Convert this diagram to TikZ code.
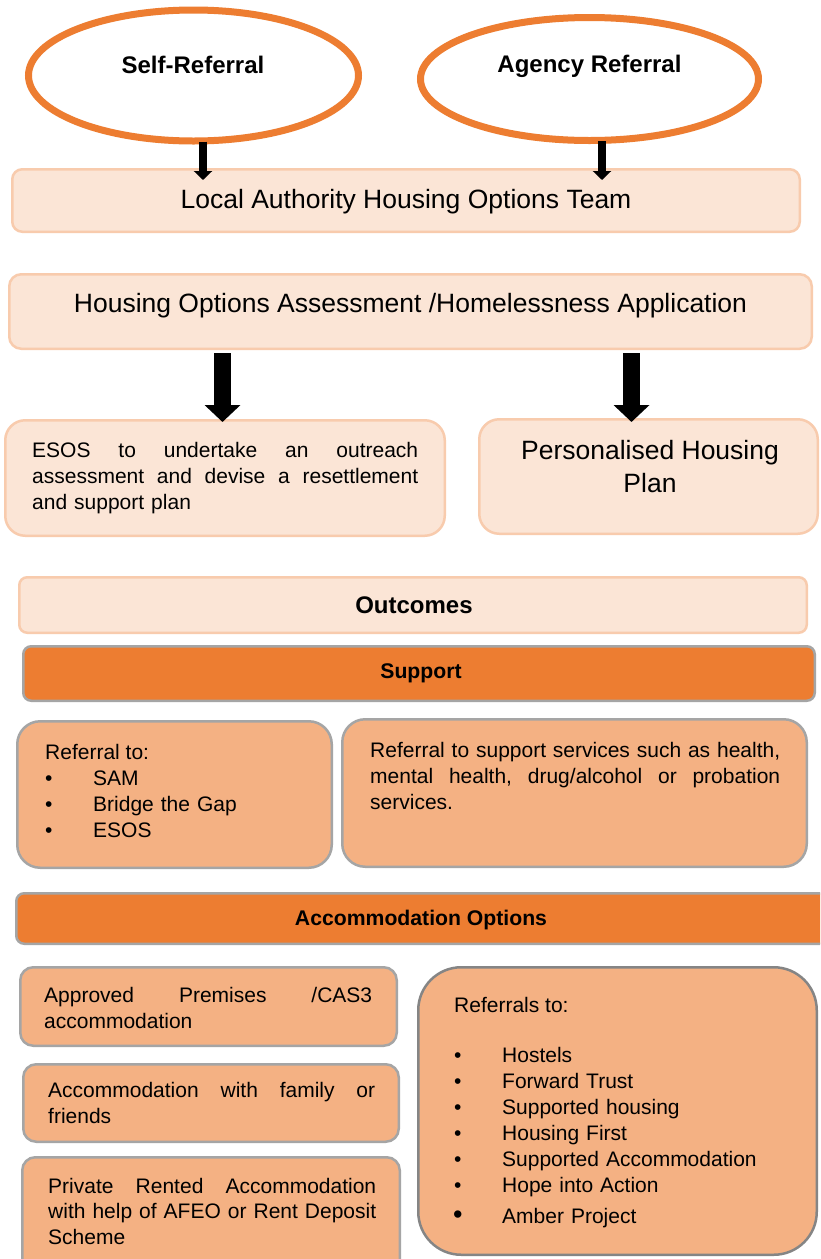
\documentclass[tikz,border=0pt]{standalone}
\usepackage{fontspec}
\setmainfont{Liberation Sans}
\usetikzlibrary{shapes.geometric,arrows.meta}
\definecolor{peachfill}{HTML}{FBE5D6}
\definecolor{peachline}{HTML}{F8CBAD}
\definecolor{orangec}{HTML}{ED7D31}
\definecolor{midpeach}{HTML}{F4B183}
\definecolor{grayline}{HTML}{A5A5A5}
\definecolor{darkgrayline}{HTML}{858585}
\newcommand{\jl}[2]{\leavevmode\hbox to #1{#2}}
\begin{document}
\begin{tikzpicture}[x=1pt,y=-1pt,
  lightbox/.style={draw=peachline,fill=peachfill,line width=2.5pt,inner sep=0pt},
  midbox/.style={draw=grayline,fill=midpeach,line width=2.5pt,inner sep=0pt},
  barbox/.style={draw=grayline,fill=orangec,line width=2.5pt,inner sep=0pt,rounded corners=8pt},
  oval/.style={ellipse,draw=orangec,line width=7pt,fill=white,inner sep=0pt},
  smallarrow/.style={line width=8pt,-{Triangle[width=18pt,length=9pt]}},
  bigarrow/.style={line width=17pt,-{Triangle[width=35pt,length=17pt]}},
  bodytxt/.style={inner sep=0pt,font=\fontsize{21}{26}\selectfont},
  bigtxt/.style={inner sep=0pt,font=\fontsize{26.5}{33}\selectfont},
  headtxt/.style={inner sep=0pt,font=\bfseries\fontsize{21.2}{26}\selectfont},
  ovaltxt/.style={inner sep=0pt,font=\bfseries\fontsize{24}{28}\selectfont},
  jtxt/.style={bodytxt,align=left,anchor=base west}
]
\clip (0,0) rectangle (820,1259);
\fill[white] (0,0) rectangle (820,1259);

% ellipses
\node[oval,minimum width=330pt,minimum height=131pt] (e1) at (193.5,75.5) {};
\node[oval,minimum width=338pt,minimum height=123pt] (e2) at (589.5,79) {};
\node[ovaltxt,anchor=base] (t1) at (193,73) {Self-Referral};
\node[ovaltxt,anchor=base] (t2) at (589.5,72) {Agency Referral};

% boxes
\node[lightbox,rounded corners=10pt,minimum width=787.5pt,minimum height=62.5pt] (lahot) at (406,200.5) {};
\node[lightbox,rounded corners=12pt,minimum width=802.5pt,minimum height=74.5pt] (hoa) at (410.5,311.5) {};
\node[lightbox,rounded corners=20pt,minimum width=439.5pt,minimum height=115.5pt] (esos) at (225,478) {};
\node[lightbox,rounded corners=20pt,minimum width=338.5pt,minimum height=114.5pt] (php) at (648.5,476.5) {};
\node[lightbox,rounded corners=8pt,minimum width=787.5pt,minimum height=55.5pt] (outc) at (413,605) {};
\node[barbox,minimum width=791.5pt,minimum height=54.5pt] (supp) at (419,673.5) {};
\node[midbox,rounded corners=23pt,minimum width=314.5pt,minimum height=146.5pt] (sub1) at (174.5,794.5) {};
\node[midbox,rounded corners=23pt,minimum width=464.5pt,minimum height=147.5pt] (sub2) at (574.5,793) {};
\node[barbox,minimum width=817.5pt,minimum height=50.5pt] (acc) at (425,918.5) {};
\node[midbox,rounded corners=13pt,minimum width=376.5pt,minimum height=78.5pt] (a1) at (208.5,1006.5) {};
\node[midbox,rounded corners=13pt,minimum width=375.5pt,minimum height=77.5pt] (a2) at (211,1103) {};
\node[midbox,rounded corners=13pt,minimum width=377.5pt,minimum height=126.5pt] (a3) at (211,1220.5) {};
\node[midbox,draw=darkgrayline,rounded corners=43pt,minimum width=398.5pt,minimum height=287.5pt] (rbox) at (617.5,1111) {};

% arrows
\coordinate (x1) at (203,0);
\coordinate (x2) at (602,0);
\coordinate (x3) at (222.5,0);
\coordinate (x4) at (631.5,0);
\draw[smallarrow,shorten <=-3pt,shorten >=-12pt] (e1.south -| x1) -- (lahot.north -| x1);
\draw[smallarrow,shorten <=-3pt,shorten >=-12pt] (e2.south -| x2) -- (lahot.north -| x2);
\draw[bigarrow,shorten <=3pt,shorten >=-3pt] (hoa.south -| x3) -- (esos.north -| x3);
\draw[bigarrow,shorten <=3pt,shorten >=-4pt] (hoa.south -| x4) -- (php.north -| x4);

% texts
\node[bigtxt,anchor=base] (lahott) at (406,208) {Local Authority Housing Options Team};
\node[bigtxt,anchor=base] (hoat) at (410.5,312) {Housing Options Assessment /Homelessness Application};
\node[jtxt,text width=386pt] (esost) at (32,457) {\jl{386pt}{ESOS\hfill to\hfill undertake\hfill an\hfill outreach}\\\jl{386pt}{assessment\hfill and\hfill devise\hfill a\hfill resettlement}\\and support plan};
\node[bigtxt,align=center,anchor=base] (phpt) at (650,492) {Personalised Housing\\Plan};
\node[inner sep=0pt,font=\bfseries\fontsize{24}{28}\selectfont,anchor=base] (outct) at (414,613) {Outcomes};
\node[headtxt,anchor=base] (suppt) at (421,678) {Support};
\node[headtxt,anchor=base] (acct) at (421,925) {Accommodation Options};

\node[bodytxt,anchor=base west] (s1h) at (45,759) {Referral to:};
\node[jtxt,text width=260pt] (s1l) at (45,785) {\makebox[48pt][l]{\textbullet}SAM\\\makebox[48pt][l]{\textbullet}Bridge the Gap\\\makebox[48pt][l]{\textbullet}ESOS};

\node[jtxt,text width=410pt] (s2t) at (370,757) {\jl{410pt}{Referral\hfill to\hfill support\hfill services\hfill such\hfill as\hfill health,}\\\jl{410pt}{mental\hfill health,\hfill drug/alcohol\hfill or\hfill probation}\\services.};

\node[jtxt,text width=328pt] (a1t) at (44,1002) {\jl{328pt}{Approved\hfill Premises\hfill /CAS3}\\accommodation};
\node[jtxt,text width=327pt] (a2t) at (48,1097.5) {\jl{327pt}{Accommodation\hfill with\hfill family\hfill or}\\friends};
\node[jtxt,text width=328pt,font=\fontsize{21}{25.5}\selectfont] (a3t) at (48,1193) {\jl{328pt}{Private\hfill Rented\hfill Accommodation}\\\jl{328pt}{with\hfill help\hfill of\hfill AFEO\hfill or\hfill Rent\hfill Deposit}\\Scheme};

\node[bodytxt,anchor=base west] (rh) at (454,1012) {Referrals to:};
\node[jtxt,text width=340pt] (rl) at (454,1062) {\makebox[48pt][l]{\textbullet}Hostels\\\makebox[48pt][l]{\textbullet}Forward Trust\\\makebox[48pt][l]{\textbullet}Supported housing\\\makebox[48pt][l]{\textbullet}Housing First\\\makebox[48pt][l]{\textbullet}Supported Accommodation\\\makebox[48pt][l]{\textbullet}Hope into Action};
\node[jtxt,text width=340pt] (rl2) at (453,1223) {\makebox[49pt][l]{\fontsize{27}{30}\selectfont\textbullet}Amber Project};
\end{tikzpicture}
\end{document}
